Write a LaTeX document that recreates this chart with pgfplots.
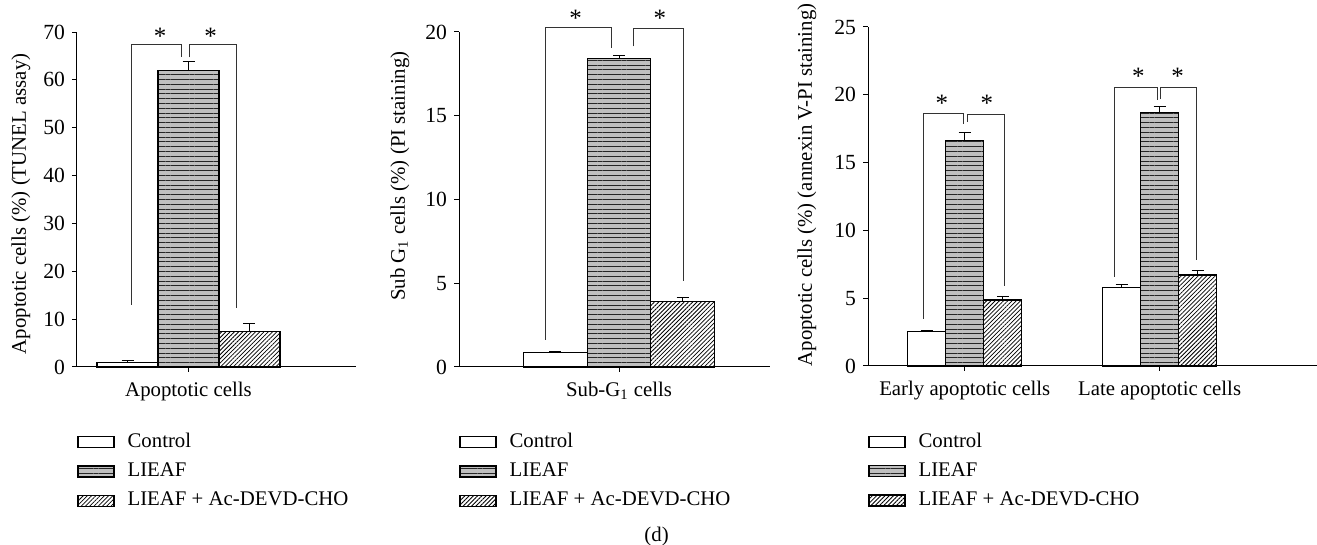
\documentclass[border=0pt]{standalone}
\usepackage{fontspec}
\setmainfont{Liberation Serif}
\usepackage{pgfplots}
\pgfplotsset{compat=1.18}
\usetikzlibrary{patterns.meta}
\newcommand{\tf}{\fontsize{10.4}{12.5}\selectfont}
\newcommand{\tkf}{\fontsize{10.8}{13}\selectfont}
\tikzset{
  brk/.style={line width=0.5pt, black!80},
  star/.style={font=\fontsize{12.5}{14}\selectfont, yshift=-1.5pt},
}
\pgfplotsset{
  mylegend/.style={legend image code/.code={\draw[##1] (0pt,-2.75pt) rectangle (18pt,2.75pt);}},
  ctrl/.style={ybar, bar shift=0pt, draw=black, line width=0.6pt, fill=white, mylegend},
  lieaf/.style={ybar, bar shift=0pt, draw=black, line width=0.6pt, fill=black!25,
     postaction={pattern={Lines[angle=0,distance=2.4pt,line width=0.45pt]}, pattern color=black!85}, mylegend},
  hatch/.style={ybar, bar shift=0pt, draw=black, line width=0.6pt, fill=white,
     postaction={pattern={Lines[angle=45,distance=1.5pt,line width=0.4pt]}, pattern color=black}, mylegend},
  panel/.style={
    scale only axis, anchor=south west,
    axis x line*=bottom, axis y line*=left,
    axis line style={-, line width=0.5pt},
    tick align=outside, major tick length=2.5pt,
    tick style={line width=0.5pt, black},
    ymin=0, clip=false, bar width=1,
    /pgf/number format/assume math mode=true,
    tick label style={font=\tkf},
    xticklabel style={font=\tf, yshift=-1.5pt},
    label style={font=\tf},
    legend style={at={(0,-0.197)}, anchor=north west, draw=none, fill=none,
      inner sep=0pt, row sep=5.6pt, column sep=6.5pt,
      nodes={inner sep=0pt, text height=7pt, text depth=2pt, anchor=west}, font=\tf},
    legend cell align=left,
    error bars/y dir=plus, error bars/y explicit,
    error bars/error mark options={rotate=90, mark size=3pt, line width=0.5pt, black},
    error bars/error bar style={line width=0.5pt, black},
  },
}
\begin{document}
\begin{tikzpicture}
\path[use as bounding box] (0,0) rectangle (658.5pt,272.5pt);
% Panel 1
\begin{axis}[panel, at={(38.5pt,89pt)}, width=139.5pt, height=167.5pt,
  xmin=-1.828, xmax=2.746, ymax=70, ytick={0,10,...,70},
  xtick={0}, xticklabels={Apoptotic cells},
  ylabel={Apoptotic cells (\%) (TUNEL assay)},
  ylabel style={at={(axis description cs:-0.2007,0.487)}, anchor=center}]
\addplot[ctrl] coordinates {(-1,0.9) +- (0,0.5)};
\addplot[lieaf] coordinates {(0,62) +- (0,1.9)};
\addplot[hatch] coordinates {(1,7.4) +- (0,1.6)};
\legend{Control, LIEAF, LIEAF + Ac-DEVD-CHO}
\draw[brk] (axis cs:-0.94,13) |- (axis cs:-0.11,67.3) -- (axis cs:-0.11,64.7);
\draw[brk] (axis cs:0.02,64.7) |- (axis cs:0.78,67.3) -- (axis cs:0.78,12.3);
\node[star] at (axis cs:-0.467,69.8) {*};
\node[star] at (axis cs:0.364,69.8) {*};
\end{axis}
% Panel 2
\begin{axis}[panel, at={(229.5pt,89pt)}, width=155.5pt, height=167.5pt,
  xmin=-2.512, xmax=2.370, ymax=20, ytick={0,5,...,20},
  xtick={0}, xticklabels={Sub-G\textsubscript{1} cells},
  ylabel={Sub G\textsubscript{1} cells (\%) (PI staining)},
  ylabel style={at={(axis description cs:-0.19,0.57)}, anchor=center}]
\addplot[ctrl] coordinates {(-1,0.88) +- (0,0.05)};
\addplot[lieaf] coordinates {(0,18.4) +- (0,0.2)};
\addplot[hatch] coordinates {(1,3.9) +- (0,0.25)};
\legend{Control, LIEAF, LIEAF + Ac-DEVD-CHO}
\draw[brk] (axis cs:-1.15,1.64) |- (axis cs:-0.115,20.24) -- (axis cs:-0.115,19.04);
\draw[brk] (axis cs:0.22,19.14) |- (axis cs:1.01,20.18) -- (axis cs:1.01,5.13);
\node[star] at (axis cs:-0.68,21.0) {*};
\node[star] at (axis cs:0.64,21.0) {*};
\end{axis}
% Panel 3
\begin{axis}[panel, at={(434pt,89.5pt)}, width=224.5pt, height=169.5pt,
  xmin=-2.54, xmax=9.25, ymax=25, ytick={0,5,...,25},
  xtick={0,5.118}, xticklabels={Early apoptotic cells, Late apoptotic cells},
  ylabel={Apoptotic cells (\%) (annexin V-PI staining)},
  ylabel style={at={(axis description cs:-0.136,0.534)}, anchor=center}]
\addplot[ctrl] coordinates {(-1,2.53) +- (0,0.06) (4.118,5.77) +- (0,0.25)};
\addplot[lieaf] coordinates {(0,16.6) +- (0,0.65) (5.118,18.7) +- (0,0.4)};
\addplot[hatch] coordinates {(1,4.86) +- (0,0.3) (6.118,6.71) +- (0,0.3)};
\legend{Control, LIEAF, LIEAF + Ac-DEVD-CHO}
\draw[brk] (axis cs:-1.08,3.5) |- (axis cs:-0.03,18.62) -- (axis cs:-0.03,17.88);
\draw[brk] (axis cs:0.07,18.0) |- (axis cs:1.04,18.57) -- (axis cs:1.04,5.9);
\node[star] at (axis cs:-0.6,19.6) {*};
\node[star] at (axis cs:0.58,19.6) {*};
\draw[brk] (axis cs:3.938,6.58) |- (axis cs:5.058,20.54) -- (axis cs:5.058,19.6);
\draw[brk] (axis cs:5.148,19.68) |- (axis cs:6.088,20.54) -- (axis cs:6.088,7.81);
\node[star] at (axis cs:4.558,21.57) {*};
\node[star] at (axis cs:5.588,21.57) {*};
\end{axis}
\node[font=\tf] at (328.3pt,4pt) {(d)};
\end{tikzpicture}
\end{document}
